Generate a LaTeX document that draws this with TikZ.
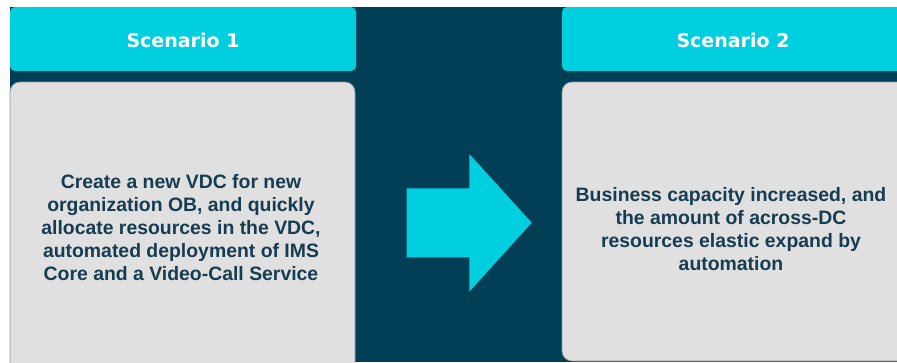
\documentclass[tikz,border=0pt]{standalone}
\usepackage{fontspec}
\setmainfont{Liberation Sans}
\newfontfamily\headfont{DejaVu Sans}
\definecolor{bgdark}{RGB}{0,63,86}
\definecolor{cyanhead}{RGB}{0,207,224}
\definecolor{boxgray}{RGB}{224,224,224}
\definecolor{boxedge}{RGB}{140,155,165}
\definecolor{bodytext}{RGB}{22,60,82}
\begin{document}
\begin{tikzpicture}[x=1pt,y=-1pt,
  headbox/.style={fill=cyanhead,rounded corners=5pt},
  bodybox/.style={fill=boxgray,draw=boxedge,line width=0.8pt,rounded corners=10pt},
  headtext/.style={text=white,font=\headfont\bfseries\fontsize{19}{23}\selectfont},
  bodytextstyle/.style={text=bodytext,align=center,font=\bfseries\fontsize{19.4}{23}\selectfont},
  arrowshape/.style={fill=cyanhead}]
\useasboundingbox (0,0) rectangle (897,362);
\fill[white] (0,0) rectangle (897,362);
\fill[bgdark] (10,7) rectangle (897,362);
% left column
\fill[headbox] (10,7) rectangle (356,71);
\node[headtext] (h1) at (183,40) {Scenario 1};
\draw[bodybox] (10,82) rectangle (355,372);
\node[bodytextstyle] (t1) at (181,228) {Create a new VDC for new\\organization OB, and quickly\\allocate resources in the VDC,\\automated deployment of IMS\\ Core and a Video-Call Service};
% right column
\fill[headbox] (562,7) rectangle (910,71);
\node[headtext] (h2) at (733,40) {Scenario 2};
\draw[bodybox] (562,82) rectangle (910,361);
\node[bodytextstyle] (t2) at (731,229) {Business capacity increased, and\\the amount of across-DC\\resources elastic expand by\\automation};
% arrow
\fill[arrowshape] (406.7,188.3) -- (469.3,188.3) -- (469.3,154) -- (531.7,222.7) -- (469.3,291.7) -- (469.3,257.3) -- (406.7,257.3) -- cycle;
\end{tikzpicture}
\end{document}
